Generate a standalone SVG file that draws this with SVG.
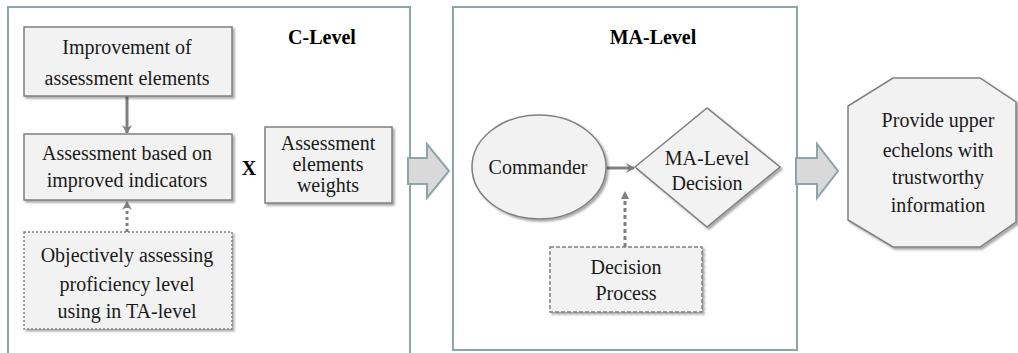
<svg xmlns="http://www.w3.org/2000/svg" width="1018" height="353" viewBox="0 0 1018 353">
<style>
  text { font-family: "Liberation Serif", "Times New Roman", serif; font-size: 20px; fill: #1a1a1a; text-anchor: middle; }
  .title { font-weight: bold; fill: #000; }
  .container { fill: #ffffff; stroke: #8ca6a8; stroke-width: 2; }
  .box { fill: #f2f2f2; stroke: #7f7f7f; stroke-width: 1.5; filter: url(#shadow); }
  .dotted { stroke-dasharray: 2 2; }
  .dashed { stroke-dasharray: 4 2; }
  .block { fill: #d9d9d9; stroke: #8ca6a8; stroke-width: 2; }
  .conn { stroke: #7f7f7f; stroke-width: 3; fill: none; }
</style>
<defs>
  <filter id="shadow" x="-10%" y="-10%" width="130%" height="130%">
    <feDropShadow dx="2" dy="2" stdDeviation="1.2" flood-color="#000" flood-opacity="0.35"/>
  </filter>
  <marker id="head" markerWidth="10" markerHeight="10" refX="8" refY="5" orient="auto" markerUnits="userSpaceOnUse">
    <path d="M0,0 L9,5 L0,10 L3,5 Z" fill="#7f7f7f"/>
  </marker>
  <marker id="headSmall" markerWidth="8" markerHeight="8" refX="7" refY="4" orient="auto" markerUnits="userSpaceOnUse">
    <path d="M0,0 L8,4 L0,8 Z" fill="#7f7f7f"/>
  </marker>
</defs>

<g id="c-level">
  <rect class="container" x="8" y="7" width="402" height="360"/>
  <text class="title" x="322" y="44">C-Level</text>
</g>
<g id="ma-level">
  <rect class="container" x="453" y="7" width="344" height="343"/>
  <text class="title" x="653" y="44">MA-Level</text>
</g>

<g id="connectors">
  <line class="conn" x1="127" y1="96" x2="127" y2="133" marker-end="url(#head)"/>
  <line class="conn" x1="127" y1="232" x2="127" y2="202" stroke-dasharray="3 3" marker-end="url(#head)"/>
  <line class="conn" x1="607" y1="168" x2="634" y2="168" stroke-width="4" marker-end="url(#head)"/>
  <line class="conn" x1="625" y1="247" x2="625" y2="192" stroke-width="1.5" stroke-dasharray="4 3" marker-end="url(#headSmall)"/>
  <path class="block" d="M408,158 L427,158 L427,144 L449,171 L427,198 L427,184 L408,184 Z"/>
  <path class="block" d="M796,158 L817,158 L817,144 L838,171 L817,198 L817,184 L796,184 Z"/>
</g>

<g id="improvement">
  <rect class="box" x="24" y="27" width="208" height="69"/>
  <text x="127" y="54">Improvement of</text>
  <text x="127" y="85">assessment elements</text>
</g>
<g id="assessment-based">
  <rect class="box" x="24" y="134" width="208" height="66"/>
  <text x="127" y="160">Assessment based on</text>
  <text x="127" y="187">improved indicators</text>
</g>
<g id="times">
  <text class="title" x="249" y="175">X</text>
</g>
<g id="weights">
  <rect class="box" x="265" y="127" width="127" height="76"/>
  <text x="328" y="150">Assessment</text>
  <text x="328" y="171">elements</text>
  <text x="328" y="192">weights</text>
</g>
<g id="objective">
  <rect class="box dotted" x="24" y="232" width="208" height="97"/>
  <text x="127" y="262">Objectively assessing</text>
  <text x="127" y="291">proficiency level</text>
  <text x="127" y="318">using in TA-level</text>
</g>
<g id="commander">
  <ellipse class="box" cx="539" cy="167" rx="67" ry="52"/>
  <text x="538" y="174">Commander</text>
</g>
<g id="decision">
  <polygon class="box" points="635,167 707,108 780,167 707,227"/>
  <text x="707" y="165">MA-Level</text>
  <text x="707" y="190">Decision</text>
</g>
<g id="decision-process">
  <rect class="box dashed" x="550" y="247" width="152" height="65"/>
  <text x="626" y="274">Decision</text>
  <text x="626" y="300">Process</text>
</g>
<g id="provide">
  <polygon class="box" points="893,78 980,78 1016,102 1016,222 980,247 893,247 848,220 848,106"/>
  <text x="938" y="127">Provide upper</text>
  <text x="938" y="157">echelons with</text>
  <text x="938" y="184">trustworthy</text>
  <text x="938" y="212">information</text>
</g>
</svg>
